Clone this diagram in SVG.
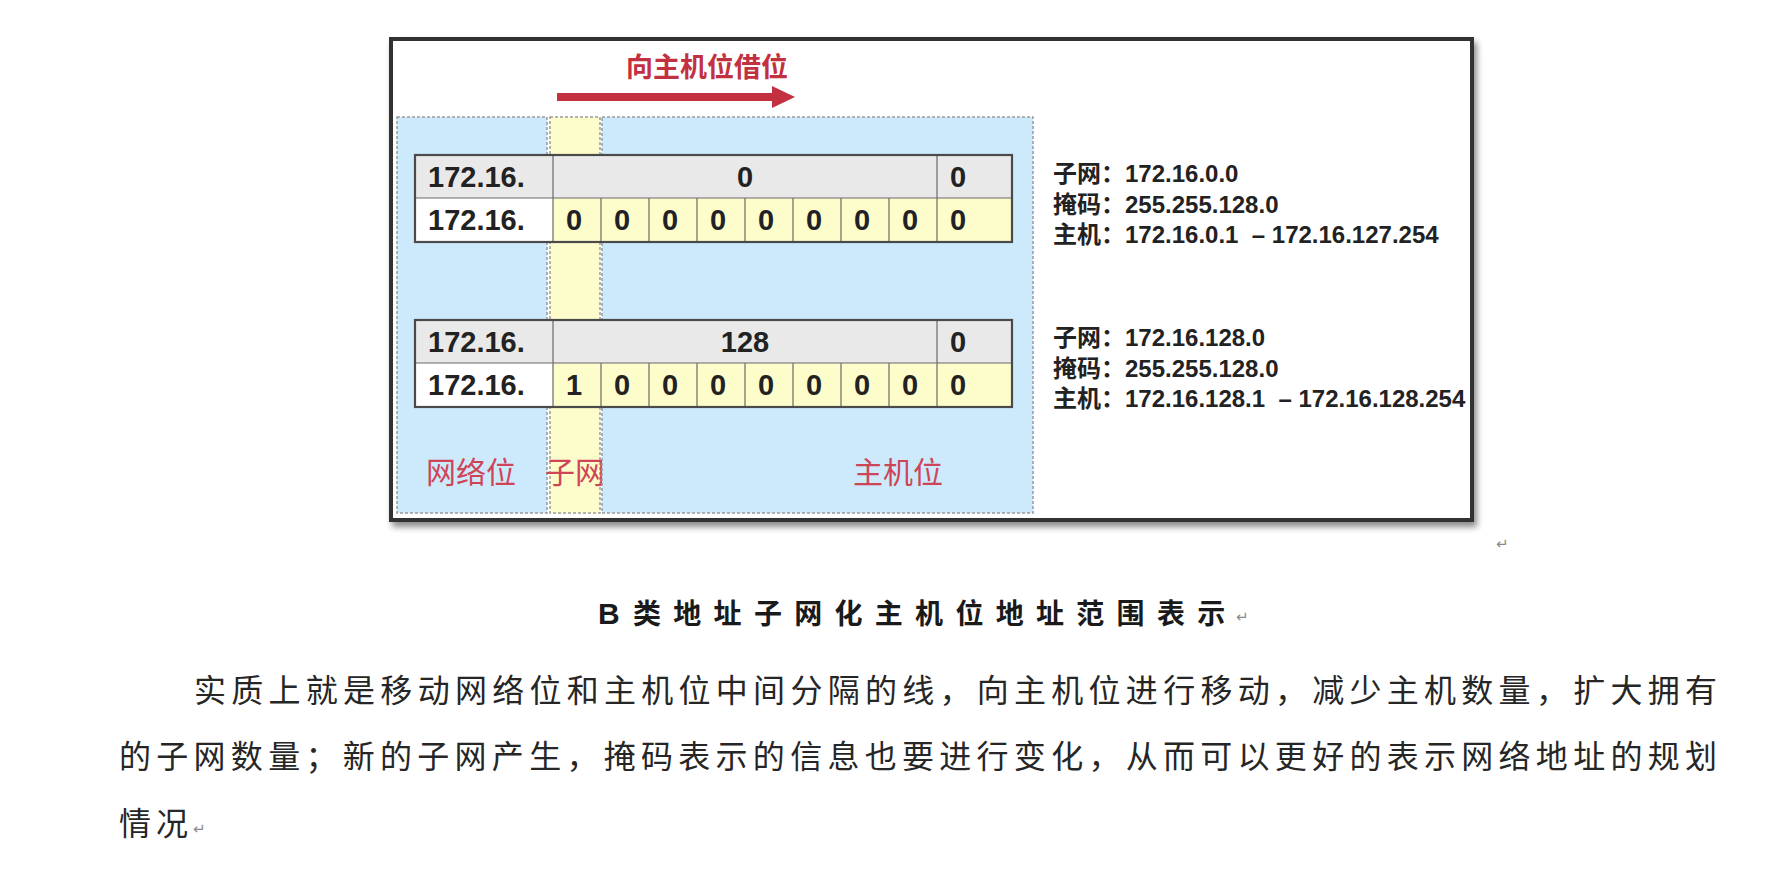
<svg xmlns="http://www.w3.org/2000/svg" width="1767" height="872" viewBox="0 0 1767 872">
  <defs>
    <filter id="shadow" x="-5%" y="-5%" width="112%" height="115%">
      <feDropShadow dx="3" dy="5" stdDeviation="3" flood-color="#000" flood-opacity="0.45"/>
    </filter>
    <marker id="arrowHead" markerUnits="userSpaceOnUse" markerWidth="24" markerHeight="22" refX="2" refY="11" orient="auto">
      <path d="M0,0 L23,11 L0,22 Z" fill="#c3303f"/>
    </marker>
    <style>
      .zone { stroke: #9a9a9a; stroke-width: 1.5; stroke-dasharray: 3 2; }
      .blue { fill: #cdeafc; }
      .yel { fill: #fdfccb; }
      .cellGray { fill: #e9e9e9; }
      .cellWhite { fill: #ffffff; }
      .cellYel { fill: #fdfdcc; }
      .grid { stroke: #6a6a6a; stroke-width: 1.2; fill: none; }
      .outline { stroke: #4a4a4a; stroke-width: 2.2; fill: none; }
      .num { font-family: "Liberation Sans", "Noto Sans CJK SC", sans-serif; font-weight: bold; font-size: 29px; fill: #222; }
      .info { font-family: "Liberation Sans", "Noto Sans CJK SC", sans-serif; font-weight: bold; font-size: 24px; fill: #222; }
      .lbl { font-family: "Noto Sans CJK SC", sans-serif; font-size: 30px; fill: #cf4558; }
      .title { font-family: "Noto Sans CJK SC", sans-serif; font-weight: bold; font-size: 27px; fill: #c3303f; }
      .cap { font-family: "Noto Sans CJK SC", sans-serif; font-weight: bold; font-size: 28px; fill: #1a1a1a; }
      .para { font-family: "Noto Sans CJK SC", sans-serif; font-size: 32px; fill: #262626; }
      .mark { font-family: "DejaVu Sans", sans-serif; font-size: 15px; fill: #8a8a8a; }
    </style>
  </defs>

  <!-- Frame -->
  <g id="frame">
    <rect x="391" y="39" width="1081" height="481" fill="#ffffff" stroke="#333333" stroke-width="4" filter="url(#shadow)"/>
  </g>

  <!-- Zones -->
  <g id="zone-network">
    <rect class="zone blue" x="397" y="117" width="150" height="396"/>
    <text class="lbl" x="471" y="483" text-anchor="middle">网络位</text>
  </g>
  <g id="zone-subnet">
    <rect class="zone yel" x="550" y="117" width="50" height="396"/>
    <text class="lbl" x="575" y="483" text-anchor="middle">子网</text>
  </g>
  <g id="zone-host">
    <rect class="zone blue" x="602" y="117" width="431" height="396"/>
    <text class="lbl" x="898" y="483" text-anchor="middle">主机位</text>
  </g>

  <!-- Title -->
  <g id="title">
    <text class="title" x="707" y="77" text-anchor="middle">向主机位借位</text>
  </g>

  <!-- Table 1 -->
  <g id="table1">
    <rect class="cellGray" x="415" y="155" width="138" height="43"/>
    <rect class="cellGray" x="553" y="155" width="384" height="43"/>
    <rect class="cellGray" x="937" y="155" width="75" height="43"/>
    <rect class="cellWhite" x="415" y="198" width="138" height="44"/>
    <rect class="cellYel" x="553" y="198" width="459" height="44"/>
    <path class="grid" d="M415,198 H1012 M553,155 V242 M937,155 V242 M601,198 V242 M649,198 V242 M697,198 V242 M745,198 V242 M793,198 V242 M841,198 V242 M889,198 V242"/>
    <rect class="outline" x="415" y="155" width="597" height="87"/>
    <text class="num" x="428" y="187">172.16.</text>
    <text class="num" x="745" y="187" text-anchor="middle">0</text>
    <text class="num" x="950" y="187">0</text>
    <text class="num" x="428" y="230">172.16.</text>
    <text class="num" y="230"><tspan x="566">0</tspan><tspan x="614">0</tspan><tspan x="662">0</tspan><tspan x="710">0</tspan><tspan x="758">0</tspan><tspan x="806">0</tspan><tspan x="854">0</tspan><tspan x="902">0</tspan><tspan x="950">0</tspan></text>
  </g>

  <!-- Table 2 -->
  <g id="table2">
    <rect class="cellGray" x="415" y="320" width="138" height="43"/>
    <rect class="cellGray" x="553" y="320" width="384" height="43"/>
    <rect class="cellGray" x="937" y="320" width="75" height="43"/>
    <rect class="cellWhite" x="415" y="363" width="138" height="44"/>
    <rect class="cellYel" x="553" y="363" width="459" height="44"/>
    <path class="grid" d="M415,363 H1012 M553,320 V407 M937,320 V407 M601,363 V407 M649,363 V407 M697,363 V407 M745,363 V407 M793,363 V407 M841,363 V407 M889,363 V407"/>
    <rect class="outline" x="415" y="320" width="597" height="87"/>
    <text class="num" x="428" y="352">172.16.</text>
    <text class="num" x="745" y="352" text-anchor="middle">128</text>
    <text class="num" x="950" y="352">0</text>
    <text class="num" x="428" y="395">172.16.</text>
    <text class="num" y="395"><tspan x="566">1</tspan><tspan x="614">0</tspan><tspan x="662">0</tspan><tspan x="710">0</tspan><tspan x="758">0</tspan><tspan x="806">0</tspan><tspan x="854">0</tspan><tspan x="902">0</tspan><tspan x="950">0</tspan></text>
  </g>

  <!-- Info blocks -->
  <g id="info1">
    <text class="info" x="1053" y="182">子网：172.16.0.0</text>
    <text class="info" x="1053" y="212.5">掩码：255.255.128.0</text>
    <text class="info" x="1053" y="243">主机：172.16.0.1&#160; – 172.16.127.254</text>
  </g>
  <g id="info2">
    <text class="info" x="1053" y="346">子网：172.16.128.0</text>
    <text class="info" x="1053" y="376.5">掩码：255.255.128.0</text>
    <text class="info" x="1053" y="407">主机：172.16.128.1&#160; – 172.16.128.254</text>
  </g>

  <!-- Connectors -->
  <g id="connectors">
    <line x1="557" y1="97" x2="774" y2="97" stroke="#c3303f" stroke-width="8" marker-end="url(#arrowHead)"/>
  </g>

  <!-- Caption & paragraph -->
  <g id="caption">
    <text class="mark" x="1496" y="549">↵</text>
    <text class="cap" y="624"><tspan x="598" font-family="Liberation Sans Narrow, Liberation Sans, sans-serif" font-size="30">B</tspan><tspan x="633" letter-spacing="12.3">类地址子网化主机位地址范围表示</tspan></text>
    <text class="mark" x="1236" y="622">↵</text>
  </g>
  <g id="paragraph">
    <text class="para" x="194" y="702" textLength="1523" lengthAdjust="spacing">实质上就是移动网络位和主机位中间分隔的线，向主机位进行移动，减少主机数量，扩大拥有</text>
    <text class="para" x="119" y="768" textLength="1598" lengthAdjust="spacing">的子网数量；新的子网产生，掩码表示的信息也要进行变化，从而可以更好的表示网络地址的规划</text>
    <text class="para" x="119" y="835" letter-spacing="5">情况</text>
    <text class="mark" x="193" y="834">↵</text>
  </g>
</svg>
